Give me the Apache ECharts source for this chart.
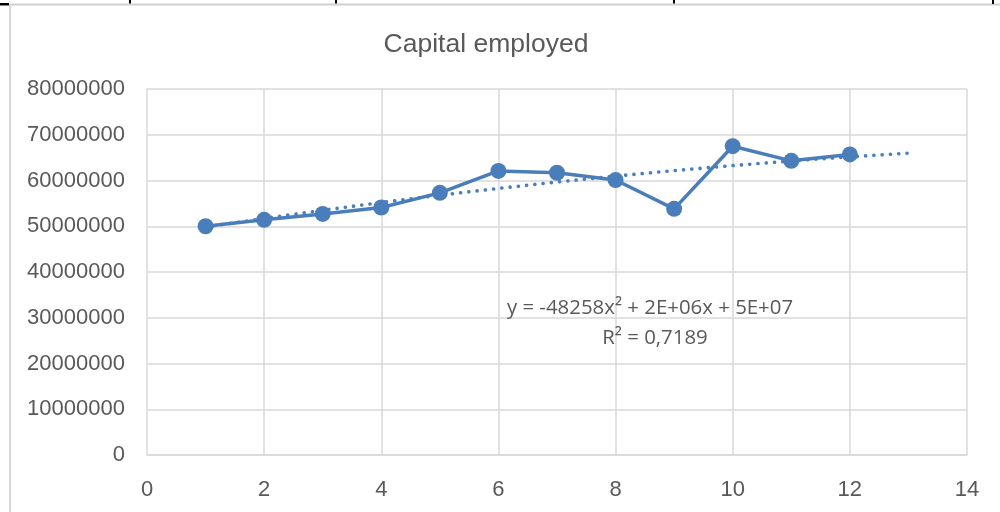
<!DOCTYPE html>
<html>
<head>
<meta charset="utf-8">
<script src="https://cdn.jsdelivr.net/npm/echarts@6/dist/echarts.min.js"></script>
<style>
  html, body { margin: 0; padding: 0; background: #ffffff; }
  #chart { width: 1000px; height: 512px; }
</style>
</head>
<body>
<div id="chart"></div>
<script>
// Period numbers and capital employed per period
const periods = [1, 2, 3, 4, 5, 6, 7, 8, 9, 10, 11, 12];
const capitalEmployed = [50000000, 51400000, 52700000, 54100000, 57300000, 62100000,
                         61700000, 60100000, 53800000, 67500000, 64300000, 65700000];
const yTicks = [0, 10000000, 20000000, 30000000, 40000000, 50000000, 60000000, 70000000, 80000000];
const xTicks = [0, 2, 4, 6, 8, 10, 12, 14];
const trendEquation = 'y = -48258x² + 2E+06x + 5E+07';
const trendR2 = 'R² = 0,7189';
const trendForecastTo = 13;

// Least-squares polynomial (order 2) through the data
function quadFit(xs, ys) {
  let s = [0, 0, 0, 0, 0], t = [0, 0, 0];
  for (let i = 0; i < xs.length; i++) {
    let p = 1;
    for (let k = 0; k < 5; k++) { s[k] += p; if (k < 3) t[k] += p * ys[i]; p *= xs[i]; }
  }
  const M = [[s[0], s[1], s[2], t[0]], [s[1], s[2], s[3], t[1]], [s[2], s[3], s[4], t[2]]];
  for (let c = 0; c < 3; c++) {
    for (let r = c + 1; r < 3; r++) {
      const f = M[r][c] / M[c][c];
      for (let k = c; k < 4; k++) M[r][k] -= f * M[c][k];
    }
  }
  const b = [0, 0, 0];
  for (let r = 2; r >= 0; r--) {
    let v = M[r][3];
    for (let k = r + 1; k < 3; k++) v -= M[r][k] * b[k];
    b[r] = v / M[r][r];
  }
  return b; // c0 + c1 x + c2 x^2
}
const coef = quadFit(periods, capitalEmployed);
const trendPoints = [];
for (let x = periods[0]; x <= trendForecastTo + 1e-9; x += 0.1) {
  trendPoints.push([x, coef[0] + coef[1] * x + coef[2] * x * x]);
}

const blue = '#4a7ebb';
const grey = '#d9d9d9';
const labelColor = '#595959';

const chart = echarts.init(document.getElementById('chart'), null, { renderer: 'canvas' });
chart.setOption({
  animation: false,
  backgroundColor: '#ffffff',
  title: {
    text: 'Capital employed',
    left: 481, top: 26, textAlign: 'center',
    textStyle: { fontFamily: 'Liberation Sans', fontSize: 26.5, fontWeight: 'normal', color: labelColor }
  },
  grid: { left: 147, right: 33, top: 89, bottom: 57, containLabel: false },
  xAxis: {
    type: 'value', min: xTicks[0], max: xTicks[xTicks.length - 1], interval: 2,
    axisLine: { show: true, lineStyle: { color: grey, width: 1.5 } },
    axisTick: { show: false },
    splitLine: { show: true, lineStyle: { color: grey, width: 1.5 } },
    axisLabel: { margin: 24, fontFamily: 'Liberation Sans', fontSize: 22, color: labelColor }
  },
  yAxis: {
    type: 'value', min: yTicks[0], max: yTicks[yTicks.length - 1], interval: 10000000,
    axisLine: { show: false },
    axisTick: { show: false },
    splitLine: { show: true, lineStyle: { color: grey, width: 1.5 } },
    axisLabel: { margin: 22, fontFamily: 'Liberation Sans', fontSize: 22, color: labelColor,
                 formatter: v => String(v) }
  },
  series: [
    {
      name: 'Capital employed', type: 'line', z: 2,
      data: periods.map((p, i) => [p, capitalEmployed[i]]),
      symbol: 'circle', symbolSize: 16,
      itemStyle: { color: blue },
      lineStyle: { color: blue, width: 3.5 }
    },
    {
      name: 'Trend', type: 'line', z: 3,
      data: trendPoints, symbol: 'none', silent: true,
      lineStyle: { color: blue, width: 3.6, type: [0.1, 8.2], cap: 'round' }
    }
  ],
  graphic: [
    // frame edges
    { type: 'line', shape: { x1: 10, y1: 4.5, x2: 1000, y2: 4.5 }, style: { stroke: '#d0d0d0', lineWidth: 2 } },
    { type: 'line', shape: { x1: 10, y1: 4, x2: 10, y2: 512 }, style: { stroke: '#d8d8d8', lineWidth: 2 } },
    { type: 'rect', shape: { x: 0, y: 3, width: 9, height: 2.5 }, style: { fill: '#000000' } },
    { type: 'rect', shape: { x: 129, y: 0, width: 2, height: 3.5 }, style: { fill: '#000000' } },
    { type: 'rect', shape: { x: 335, y: 0, width: 2, height: 3.5 }, style: { fill: '#000000' } },
    { type: 'rect', shape: { x: 673, y: 0, width: 2, height: 3.5 }, style: { fill: '#000000' } },
    { type: 'rect', shape: { x: 992, y: 0, width: 2, height: 4 }, style: { fill: '#000000' } },
    // trendline equation
    { type: 'text', x: 650, y: 308, z: 10,
      style: { text: trendEquation, fill: labelColor, font: '20.4px "Open Sans"', textAlign: 'center', textVerticalAlign: 'middle' } },
    { type: 'text', x: 655, y: 338, z: 10,
      style: { text: trendR2, fill: labelColor, font: '20.4px "Open Sans"', textAlign: 'center', textVerticalAlign: 'middle' } }
  ]
});
</script>
</body>
</html>
